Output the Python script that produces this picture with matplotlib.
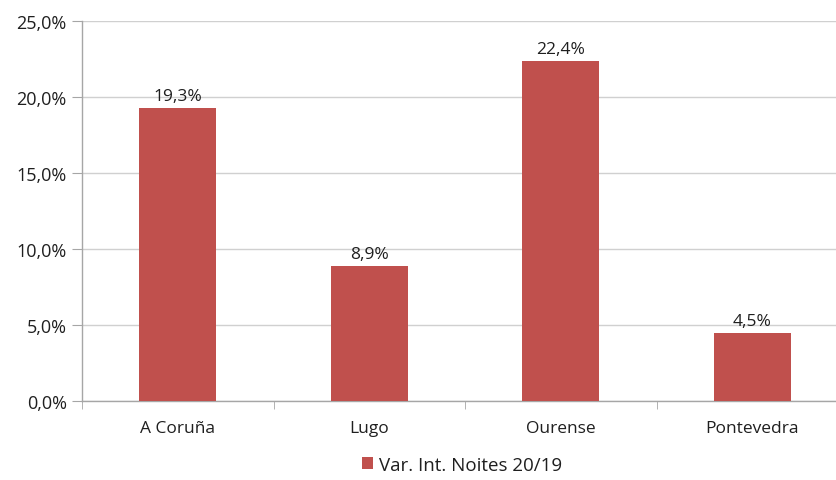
import matplotlib.pyplot as plt
from matplotlib.ticker import FuncFormatter, FixedLocator
import numpy as np

plt.rcParams['font.family'] = ['Open Sans', 'DejaVu Sans']

categories = ['A Coruña', 'Lugo', 'Ourense', 'Pontevedra']
values = [19.3, 8.9, 22.4, 4.5]
series_name = 'Var. Int. Noites 20/19'

bar_color = '#C0504D'
axis_color = '#A6A6A6'
grid_color = '#D0D0D0'
text_color = '#1F1F1F'

fig = plt.figure(figsize=(8.37, 4.81), dpi=100)
ax = fig.add_axes([82 / 837, 1 - 402 / 481, 766 / 837, 380 / 481])

x = np.arange(len(categories))
bars = ax.bar(x, values, width=0.40, color=bar_color, label=series_name, zorder=3)

for xi, v in zip(x, values):
    ax.text(xi, v + 0.25, f'{v:.1f}%'.replace('.', ','), ha='center', va='bottom',
            fontsize=12.5, color=text_color)

ax.set_xlim(-0.5, len(categories) - 0.5)
ax.set_ylim(0, 25)
ax.set_yticks(np.arange(0, 25.1, 5))
ax.yaxis.set_major_formatter(FuncFormatter(lambda v, p: f'{v:.1f}%'.replace('.', ',')))
ax.yaxis.grid(True, color=grid_color, linewidth=1, zorder=0)

ax.set_xticks(x)
ax.set_xticklabels(categories)
ax.xaxis.set_minor_locator(FixedLocator(np.arange(-0.5, len(categories), 1.0)))
ax.tick_params(axis='x', which='major', length=0, pad=14, labelsize=12.5, labelcolor=text_color)
ax.tick_params(axis='x', which='minor', length=6, color=axis_color, direction='out')
ax.tick_params(axis='y', length=7, color=axis_color, labelsize=13, labelcolor=text_color, pad=4)

for s in ['top', 'right']:
    ax.spines[s].set_visible(False)
for s in ['left', 'bottom']:
    ax.spines[s].set_color(axis_color)
    ax.spines[s].set_linewidth(1)

fig.legend(handles=[bars], labels=[series_name], loc='center', bbox_to_anchor=(462 / 837, 1 - 466 / 481),
           frameon=False, fontsize=13.5, handlelength=0.6, handleheight=0.6, handletextpad=0.3,
           labelcolor=text_color)

fig.savefig('out.png', dpi=100)
